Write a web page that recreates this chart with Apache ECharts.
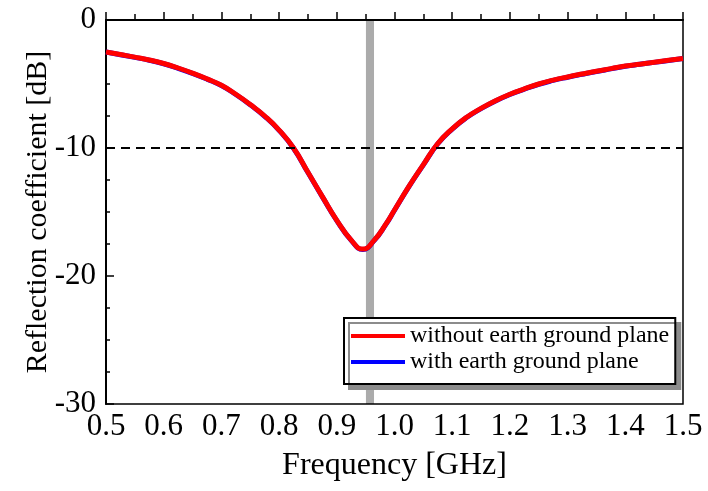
<!DOCTYPE html>
<html>
<head>
<meta charset="utf-8">
<script src="https://cdn.jsdelivr.net/npm/echarts@6/dist/echarts.min.js"></script>
<style>
  html, body { margin: 0; padding: 0; background: #fff; }
  #chart { width: 708px; height: 491px; }
</style>
</head>
<body>
<div id="chart"></div>
<script>
// frequency [GHz]
const freq = [0.500, 0.525, 0.550, 0.575, 0.600, 0.625, 0.650, 0.675, 0.700, 0.725, 0.750, 0.775, 0.800, 0.825, 0.850, 0.875, 0.900, 0.925, 0.945, 0.965, 0.985, 1.000, 1.025, 1.050, 1.075, 1.100, 1.125, 1.150, 1.175, 1.200, 1.225, 1.250, 1.275, 1.300, 1.325, 1.350, 1.375, 1.400, 1.425, 1.450, 1.475, 1.500]
// reflection coefficient [dB]
const withoutEarth = [-2.5, -2.7, -2.9, -3.12, -3.4, -3.75, -4.15, -4.6, -5.1, -5.8, -6.6, -7.5, -8.6, -10.0, -11.9, -13.8, -15.65, -17.2, -17.9, -17.2, -15.95, -14.84, -13.0, -11.3, -9.65, -8.5, -7.6, -6.9, -6.3, -5.8, -5.38, -5.0, -4.7, -4.45, -4.22, -4.0, -3.8, -3.6, -3.45, -3.3, -3.15, -3.0]
const withEarth = [-2.5, -2.71, -2.92, -3.14, -3.42, -3.77, -4.17, -4.62, -5.12, -5.82, -6.62, -7.52, -8.62, -10.02, -11.92, -13.82, -15.67, -17.22, -17.92, -17.22, -15.97, -14.86, -13.02, -11.32, -9.67, -8.52, -7.62, -6.92, -6.32, -5.82, -5.4, -5.02, -4.72, -4.47, -4.24, -4.02, -3.82, -3.62, -3.46, -3.31, -3.16, -3.0]
const xTicks = { min: 0.5, max: 1.5, interval: 0.1 }
const yTicks = { min: -30, max: 0, interval: 10 }
const thresholdDb = -10
const bandRange = [0.9505, 0.9645]

const serif = '"Liberation Serif", "Times New Roman", serif'
const chart = echarts.init(document.getElementById('chart'), null, { renderer: 'canvas' })

const toPairs = ys => freq.map((f, i) => [f, ys[i]])

chart.setOption({
  animation: false,
  grid: {
    left: 106,
    right: 25,
    top: 20,
    bottom: 87,
    show: true,
    borderColor: '#000',
    borderWidth: 1.5
  },
  legend: {
    orient: 'vertical',
    left: 344,
    top: 318,
    data: ['without earth ground plane', 'with earth ground plane'],
    icon: 'rect',
    itemWidth: 54,
    itemHeight: 4,
    itemGap: 2,
    padding: [6, 6, 10, 7],
    backgroundColor: '#fff',
    borderColor: '#000',
    borderWidth: 2,
    borderRadius: 0,
    shadowColor: '#8c8c8c',
    shadowBlur: 0,
    shadowOffsetX: 5,
    shadowOffsetY: 5,
    textStyle: { fontFamily: serif, fontSize: 24, color: '#000' }
  },
  xAxis: {
    type: 'value',
    min: xTicks.min,
    max: xTicks.max,
    interval: xTicks.interval,
    name: 'Frequency [GHz]',
    nameLocation: 'middle',
    nameGap: 46,
    nameMoveOverlap: false,
    nameTextStyle: { fontFamily: serif, fontSize: 32, color: '#000' },
    axisLine: { lineStyle: { color: '#000', width: 2 } },
    axisTick: { inside: true, length: 8, lineStyle: { color: '#000', width: 1.5 } },
    minorTick: { show: true, splitNumber: 2, length: 6, lineStyle: { color: '#000', width: 1.5 } },
    splitLine: { show: false },
    axisLabel: {
      fontFamily: serif,
      fontSize: 31,
      color: '#000',
      margin: 7,
      formatter: v => v.toFixed(1)
    }
  },
  yAxis: {
    type: 'value',
    min: yTicks.min,
    max: yTicks.max,
    interval: yTicks.interval,
    name: 'Reflection coefficient [dB]',
    nameLocation: 'middle',
    nameGap: 53,
    nameMoveOverlap: false,
    nameTextStyle: { fontFamily: serif, fontSize: 30, color: '#000' },
    axisLine: { lineStyle: { color: '#000', width: 2 } },
    axisTick: { inside: true, length: 8, lineStyle: { color: '#000', width: 1.5 } },
    minorTick: { show: true, splitNumber: 4, length: 4, lineStyle: { color: '#000', width: 1.5 } },
    splitLine: { show: false },
    axisLabel: { fontFamily: serif, fontSize: 31, color: '#000', margin: 10 }
  },
  series: [
    {
      name: 'with earth ground plane',
      type: 'line',
      color: '#0000ff',
      smooth: true,
      symbol: 'none',
      lineStyle: { width: 5 },
      data: toPairs(withEarth),
      markLine: {
        silent: true,
        symbol: 'none',
        label: { show: false },
        lineStyle: { color: '#000', width: 2, type: [9, 6] },
        data: [{ yAxis: thresholdDb }]
      }
    },
    {
      name: 'without earth ground plane',
      type: 'line',
      color: '#ff0000',
      smooth: true,
      symbol: 'none',
      lineStyle: { width: 5 },
      data: toPairs(withoutEarth)
    },
    {
      name: 'band',
      type: 'line',
      z: 10,
      data: [],
      markArea: {
        silent: true,
        itemStyle: { color: 'rgba(0,0,0,0.33)' },
        data: [[{ xAxis: bandRange[0] }, { xAxis: bandRange[1] }]]
      }
    }
  ]
})
</script>
</body>
</html>
